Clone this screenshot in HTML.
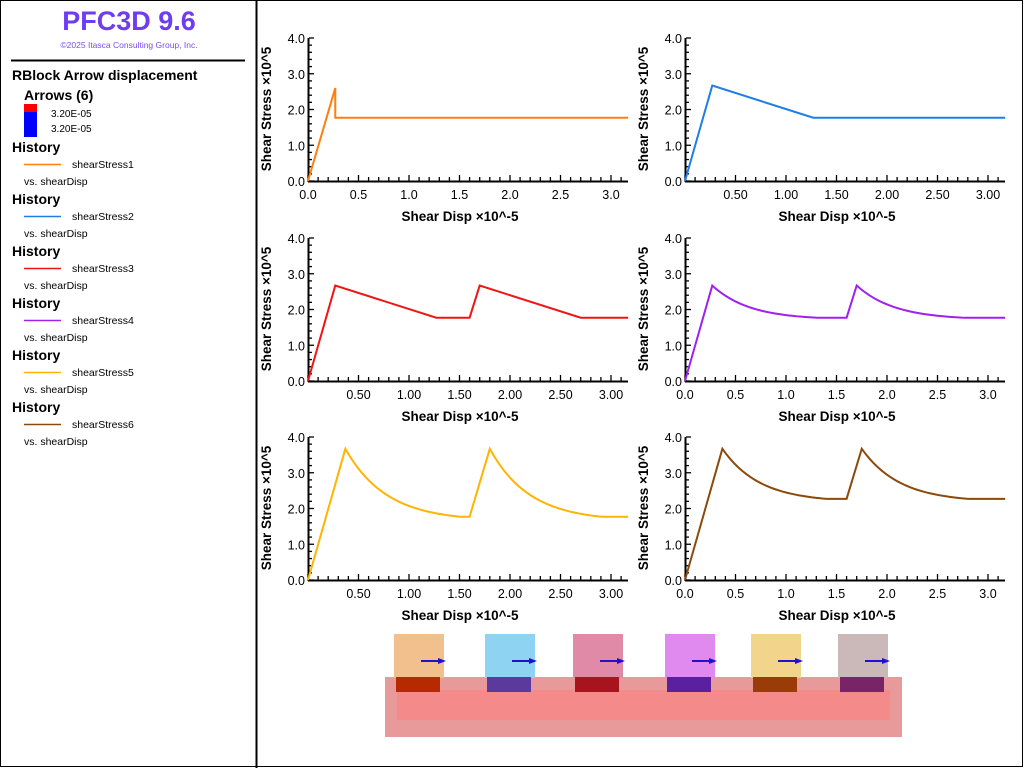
<!DOCTYPE html>
<html><head><meta charset="utf-8"><style>
body{margin:0;background:#fff;font-family:"Liberation Sans",sans-serif}
#w{position:relative;width:1024px;height:768px;overflow:hidden}
</style></head><body><div id="w">
<svg id="s" width="1024" height="768" xmlns="http://www.w3.org/2000/svg" font-family="Liberation Sans, sans-serif">
<rect x="0.5" y="0.5" width="1022" height="766" fill="#fff" stroke="#000"/>
<line x1="256.5" y1="0" x2="256.5" y2="768" stroke="#000" stroke-width="2"/>
<text x="129" y="30" text-anchor="middle" font-size="27" font-weight="bold" fill="#6e3df2">PFC3D 9.6</text>
<text x="129" y="48" text-anchor="middle" font-size="8.5" fill="#7a4cf0">©2025 Itasca Consulting Group, Inc.</text>
<line x1="11" y1="60.5" x2="245" y2="60.5" stroke="#000" stroke-width="2"/>
<text x="12" y="80" font-size="14" font-weight="bold">RBlock Arrow displacement</text>
<text x="24" y="100" font-size="14" font-weight="bold">Arrows (6)</text>
<rect x="24" y="104" width="13" height="8" fill="#f00"/>
<rect x="24" y="112" width="13" height="25" fill="#00f"/>
<text x="51" y="117" font-size="10">3.20E-05</text>
<text x="51" y="132" font-size="10">3.20E-05</text>
<g id="leg"></g>
<g id="charts"></g>
<g>
<rect x="385" y="677" width="517" height="60" fill="#e89a9a"/>
<rect x="397" y="690" width="493" height="30" fill="#f48a8a"/>
</g>
<g id="cubes"></g>
</svg>
</div>
<script>
const NS="http://www.w3.org/2000/svg";
function el(p,t,a,txt){const e=document.createElementNS(NS,t);for(const k in a)e.setAttribute(k,a[k]);if(txt!==undefined)e.textContent=txt;p.appendChild(e);return e;}
const cols=["#ff7f0e","#1e7ee8","#f01414","#a020f0","#ffb400","#8b4a0a"];
const leg=document.getElementById('leg');
for(let i=0;i<6;i++){const y=152+52*i;
el(leg,'text',{x:12,y:y,'font-size':14,'font-weight':'bold'},'History');
el(leg,'line',{x1:24,y1:y+12.5,x2:61,y2:y+12.5,stroke:cols[i],'stroke-width':1.5});
el(leg,'text',{x:72,y:y+16,'font-size':10.5},'shearStress'+(i+1));
el(leg,'text',{x:24,y:y+33,'font-size':10.5},'vs. shearDisp');}
function decay(x0,y0,xe,x1,yf){const p=[];const k=2.8/(xe-x0);for(let x=x0;x<=x1+1e-9;x+=0.04){let v=yf+(y0-yf)*(Math.exp(-k*(x-x0))-Math.exp(-k*(xe-x0)))/(1-Math.exp(-k*(xe-x0)));if(x>xe)v=yf;p.push([x,v]);}p.push([x1,yf]);return p;}
const data=[
[[0,0],[0.27,2.6],[0.27,1.77],[3.2,1.77]],
[[0,0],[0.27,2.67],[1.27,1.77],[3.2,1.77]],
[[0,0],[0.27,2.67],[1.27,1.77],[1.6,1.77],[1.7,2.67],[2.7,1.77],[3.2,1.77]],
[[0,0]].concat(decay(0.27,2.67,1.3,1.6,1.77),decay(1.7,2.67,2.75,3.2,1.77)),
[[0,0]].concat(decay(0.37,3.67,1.5,1.6,1.77),decay(1.8,3.67,2.9,3.2,1.77)),
[[0,0]].concat(decay(0.37,3.67,1.4,1.6,2.27),decay(1.75,3.67,2.8,3.2,2.27))];
const zeroLbl=[true,false,false,true,false,true];
const ch=document.getElementById('charts');
for(let i=0;i<6;i++){
 const X0=i%2?685:308, X1=i%2?1005:628, Yb=[181,381,580][Math.floor(i/2)], Yt=Yb-143;
 const sx=v=>X0+v*101, sy=v=>Yb-v*(143/4);
 const g=el(ch,'g',{});
 el(g,'line',{x1:X0+.5,y1:Yt,x2:X0+.5,y2:Yb+1,stroke:'#000','stroke-width':2});
 el(g,'line',{x1:X0,y1:Yb+.5,x2:X1,y2:Yb+.5,stroke:'#000','stroke-width':2});
 for(let k=0;k<=20;k++){const y=sy(k*0.2);const maj=k%5==0;el(g,'line',{x1:X0+1,y1:y,x2:X0+(maj?6:4),y2:y,stroke:'#000','stroke-width':1.3});
  if(maj)el(g,'text',{x:X0-3,y:y+5,'text-anchor':'end','font-size':12.5},(k/5).toFixed(1)+'');}
 for(let k=0;k<=31;k++){const x=sx(k*0.1);const maj=k%5==0;el(g,'line',{x1:x,y1:Yb,x2:x,y2:Yb-(maj?6:4),stroke:'#000','stroke-width':1.3});
  if(maj&&(k>0||zeroLbl[i]))el(g,'text',{x:x,y:Yb+18,'text-anchor':'middle','font-size':12.5},zeroLbl[i]?(k/10).toFixed(1):(k/10).toFixed(2));}
 el(g,'text',{x:(X0+X1)/2-8,y:Yb+40,'text-anchor':'middle','font-size':13.5,'font-weight':'bold'},'Shear Disp ×10^-5');
 el(g,'text',{x:0,y:0,'text-anchor':'middle','font-size':13.5,'font-weight':'bold',transform:`translate(${X0-37},${Yt+71}) rotate(-90)`},'Shear Stress ×10^5');
 el(g,'polyline',{points:data[i].map(p=>sx(Math.min(p[0],3.17))+','+sy(p[1])).join(' '),fill:'none',stroke:cols[i],'stroke-width':2});
}
const cb=document.getElementById('cubes');
const cc=[["#f2c08c","#b52a00"],["#8ed4f2","#5a3a9a"],["#e08aa8","#a8141e"],["#e08af0","#5a20a0"],["#f2d48a","#9a3c08"],["#cbb8b8","#7a2468"]];
const cx=[394,485,573,665,751,838];
for(let i=0;i<6;i++){const x=cx[i];
el(cb,'rect',{x:x,y:634,width:50,height:44,fill:cc[i][0]});
el(cb,'rect',{x:x+2,y:677,width:44,height:15,fill:cc[i][1]});
el(cb,'line',{x1:x+27,y1:661,x2:x+48,y2:661,stroke:'#2010d0','stroke-width':2});
el(cb,'polygon',{points:`${x+44},658 ${x+52},661 ${x+44},664`,fill:'#2010d0'});}
</script>
</body></html>
